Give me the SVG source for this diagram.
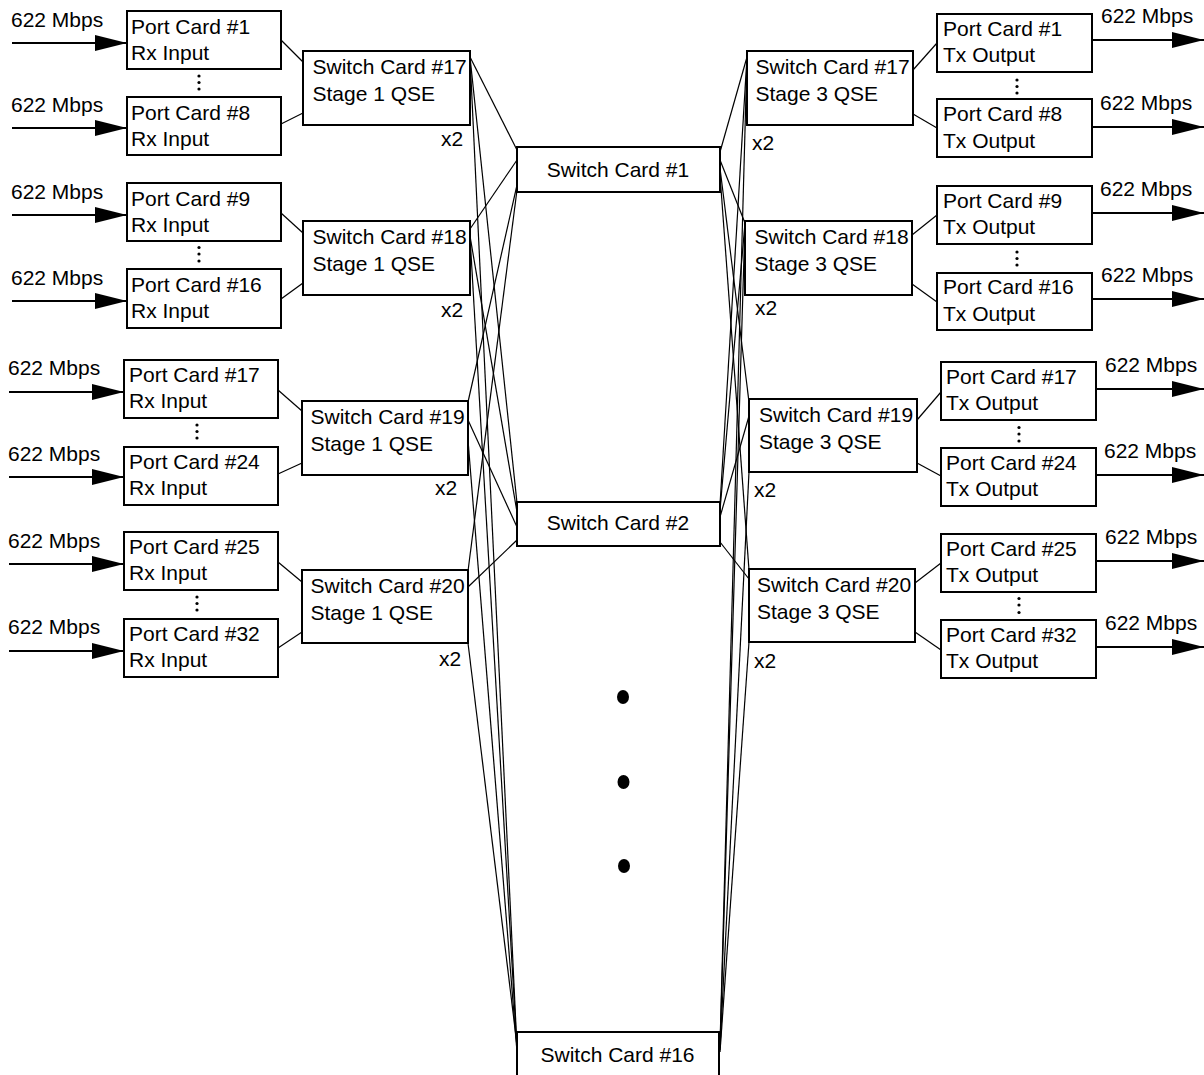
<svg xmlns="http://www.w3.org/2000/svg" width="1204" height="1075" viewBox="0 0 1204 1075">
<style>
text{font-family:"Liberation Sans",Arial,Helvetica,sans-serif;font-size:21px;fill:#000}
.box{fill:#fff;stroke:#000;stroke-width:2}
.ln{stroke:#000;stroke-width:1.2;fill:none}
.arr{stroke:#000;stroke-width:2;fill:none;marker-end:url(#ah)}
.mid{text-anchor:middle}
.dot{fill:#000}
</style>
<defs>
<marker id="ah" markerUnits="userSpaceOnUse" markerWidth="32" markerHeight="16" refX="32" refY="8" orient="auto">
<path d="M0,0 L32,8 L0,16 Z" fill="#000"/>
</marker>
</defs>
<rect width="1204" height="1075" fill="#fff"/>

<g id="connectors">
<!-- input arrows -->
<line class="arr" x1="12" y1="43" x2="127" y2="43"/>
<line class="arr" x1="12" y1="128" x2="127" y2="128"/>
<line class="arr" x1="12" y1="215" x2="127" y2="215"/>
<line class="arr" x1="12" y1="301" x2="127" y2="301"/>
<line class="arr" x1="9" y1="392" x2="124" y2="392"/>
<line class="arr" x1="9" y1="477" x2="124" y2="477"/>
<line class="arr" x1="9" y1="564" x2="124" y2="564"/>
<line class="arr" x1="9" y1="651" x2="124" y2="651"/>
<!-- output arrows -->
<line class="arr" x1="1092" y1="40" x2="1204" y2="40"/>
<line class="arr" x1="1092" y1="127" x2="1204" y2="127"/>
<line class="arr" x1="1092" y1="213" x2="1204" y2="213"/>
<line class="arr" x1="1092" y1="299" x2="1204" y2="299"/>
<line class="arr" x1="1096" y1="389" x2="1204" y2="389"/>
<line class="arr" x1="1096" y1="475" x2="1204" y2="475"/>
<line class="arr" x1="1096" y1="561" x2="1204" y2="561"/>
<line class="arr" x1="1096" y1="647" x2="1204" y2="647"/>
<!-- port cards to stage 1 -->
<line class="ln" x1="281" y1="40" x2="303" y2="62"/>
<line class="ln" x1="281" y1="124" x2="303" y2="113"/>
<line class="ln" x1="281" y1="213" x2="303" y2="233"/>
<line class="ln" x1="281" y1="299" x2="303" y2="283"/>
<line class="ln" x1="278" y1="390" x2="302" y2="411"/>
<line class="ln" x1="278" y1="474" x2="302" y2="463"/>
<line class="ln" x1="278" y1="562" x2="302" y2="582"/>
<line class="ln" x1="278" y1="648" x2="302" y2="632"/>
<!-- stage 3 to port cards -->
<line class="ln" x1="913" y1="70" x2="937" y2="43"/>
<line class="ln" x1="913" y1="114" x2="937" y2="128"/>
<line class="ln" x1="912" y1="235" x2="937" y2="215"/>
<line class="ln" x1="912" y1="284" x2="937" y2="302"/>
<line class="ln" x1="917" y1="420" x2="941" y2="392"/>
<line class="ln" x1="917" y1="463" x2="941" y2="476"/>
<line class="ln" x1="915" y1="583" x2="941" y2="563"/>
<line class="ln" x1="915" y1="632" x2="941" y2="650"/>
<!-- stage 1 to center -->
<line class="ln" x1="470" y1="57" x2="517" y2="150"/>
<line class="ln" x1="470" y1="57" x2="517" y2="503"/>
<line class="ln" x1="470" y1="57" x2="517" y2="1048"/>
<line class="ln" x1="470" y1="229" x2="517" y2="160"/>
<line class="ln" x1="470" y1="236" x2="517" y2="512"/>
<line class="ln" x1="470" y1="236" x2="517" y2="1050"/>
<line class="ln" x1="468" y1="402" x2="517" y2="185"/>
<line class="ln" x1="468" y1="420" x2="517" y2="527"/>
<line class="ln" x1="468" y1="440" x2="517" y2="1052"/>
<line class="ln" x1="468" y1="571" x2="517" y2="190"/>
<line class="ln" x1="468" y1="587" x2="517" y2="540"/>
<line class="ln" x1="468" y1="643" x2="517" y2="1045"/>
<!-- center to stage 3 -->
<line class="ln" x1="720" y1="152" x2="747" y2="57"/>
<line class="ln" x1="720" y1="505" x2="747" y2="57"/>
<line class="ln" x1="720" y1="1045" x2="747" y2="57"/>
<line class="ln" x1="720" y1="160" x2="745" y2="223"/>
<line class="ln" x1="720" y1="510" x2="745" y2="223"/>
<line class="ln" x1="720" y1="1048" x2="745" y2="223"/>
<line class="ln" x1="720" y1="168" x2="749" y2="402"/>
<line class="ln" x1="720" y1="517" x2="749" y2="416"/>
<line class="ln" x1="720" y1="1050" x2="749" y2="472"/>
<line class="ln" x1="720" y1="175" x2="749" y2="570"/>
<line class="ln" x1="720" y1="542" x2="749" y2="579"/>
<line class="ln" x1="720" y1="1052" x2="749" y2="642"/>
</g>

<g id="labels">
<text x="11" y="27">622 Mbps</text>
<text x="11" y="112">622 Mbps</text>
<text x="11" y="199">622 Mbps</text>
<text x="11" y="285">622 Mbps</text>
<text x="8" y="375">622 Mbps</text>
<text x="8" y="461">622 Mbps</text>
<text x="8" y="548">622 Mbps</text>
<text x="8" y="634">622 Mbps</text>
<text x="1101" y="23">622 Mbps</text>
<text x="1100" y="110">622 Mbps</text>
<text x="1100" y="196">622 Mbps</text>
<text x="1101" y="282">622 Mbps</text>
<text x="1105" y="372">622 Mbps</text>
<text x="1104" y="458">622 Mbps</text>
<text x="1105" y="544">622 Mbps</text>
<text x="1105" y="630">622 Mbps</text>
<text x="441" y="146">x2</text>
<text x="441" y="317">x2</text>
<text x="435" y="495">x2</text>
<text x="439" y="666">x2</text>
<text x="752" y="150">x2</text>
<text x="755" y="315">x2</text>
<text x="754" y="497">x2</text>
<text x="754" y="668">x2</text>
</g>

<g id="ellipses">
<circle class="dot" cx="199" cy="76" r="1.6"/><circle class="dot" cx="199" cy="82.5" r="1.6"/><circle class="dot" cx="199" cy="89" r="1.6"/>
<circle class="dot" cx="199" cy="247.5" r="1.6"/><circle class="dot" cx="199" cy="254" r="1.6"/><circle class="dot" cx="199" cy="261" r="1.6"/>
<circle class="dot" cx="197" cy="425" r="1.6"/><circle class="dot" cx="197" cy="431.5" r="1.6"/><circle class="dot" cx="197" cy="438" r="1.6"/>
<circle class="dot" cx="197" cy="597" r="1.6"/><circle class="dot" cx="197" cy="603.5" r="1.6"/><circle class="dot" cx="197" cy="610" r="1.6"/>
<circle class="dot" cx="1017" cy="80" r="1.6"/><circle class="dot" cx="1017" cy="86.5" r="1.6"/><circle class="dot" cx="1017" cy="93" r="1.6"/>
<circle class="dot" cx="1017" cy="252" r="1.6"/><circle class="dot" cx="1017" cy="258.5" r="1.6"/><circle class="dot" cx="1017" cy="265" r="1.6"/>
<circle class="dot" cx="1019" cy="427.5" r="1.6"/><circle class="dot" cx="1019" cy="434" r="1.6"/><circle class="dot" cx="1019" cy="441" r="1.6"/>
<circle class="dot" cx="1019" cy="598.5" r="1.6"/><circle class="dot" cx="1019" cy="605" r="1.6"/><circle class="dot" cx="1019" cy="612.5" r="1.6"/>
<ellipse class="dot" cx="623" cy="697" rx="6" ry="7"/>
<ellipse class="dot" cx="623.5" cy="782" rx="6" ry="7"/>
<ellipse class="dot" cx="624" cy="866" rx="6" ry="7"/>
</g>

<!-- input port cards -->
<g id="pc-rx-1"><rect class="box" x="127" y="11" width="154" height="58"/><text x="131" y="33.5">Port Card #1</text><text x="131" y="59.5">Rx Input</text></g>
<g id="pc-rx-8"><rect class="box" x="127" y="97" width="154" height="58"/><text x="131" y="119.5">Port Card #8</text><text x="131" y="145.5">Rx Input</text></g>
<g id="pc-rx-9"><rect class="box" x="127" y="183" width="154" height="58"/><text x="131" y="205.5">Port Card #9</text><text x="131" y="231.5">Rx Input</text></g>
<g id="pc-rx-16"><rect class="box" x="127" y="269" width="154" height="59"/><text x="131" y="291.5">Port Card #16</text><text x="131" y="317.5">Rx Input</text></g>
<g id="pc-rx-17"><rect class="box" x="124" y="360" width="154" height="58"/><text x="129" y="382">Port Card #17</text><text x="129" y="408">Rx Input</text></g>
<g id="pc-rx-24"><rect class="box" x="124" y="447" width="154" height="58"/><text x="129" y="469">Port Card #24</text><text x="129" y="495">Rx Input</text></g>
<g id="pc-rx-25"><rect class="box" x="124" y="532" width="154" height="58"/><text x="129" y="554">Port Card #25</text><text x="129" y="580">Rx Input</text></g>
<g id="pc-rx-32"><rect class="box" x="124" y="619" width="154" height="58"/><text x="129" y="641">Port Card #32</text><text x="129" y="667">Rx Input</text></g>

<!-- stage 1 -->
<g id="sc17-s1"><rect class="box" x="303" y="51" width="167" height="74"/><text x="312.5" y="74">Switch Card #17</text><text x="312.5" y="101">Stage 1 QSE</text></g>
<g id="sc18-s1"><rect class="box" x="303" y="221" width="167" height="74"/><text x="312.5" y="244">Switch Card #18</text><text x="312.5" y="271">Stage 1 QSE</text></g>
<g id="sc19-s1"><rect class="box" x="302" y="401" width="166" height="74"/><text x="310.5" y="423.5">Switch Card #19</text><text x="310.5" y="450.5">Stage 1 QSE</text></g>
<g id="sc20-s1"><rect class="box" x="302" y="570" width="166" height="73"/><text x="310.5" y="593">Switch Card #20</text><text x="310.5" y="620">Stage 1 QSE</text></g>

<!-- center -->
<g id="sc1"><rect class="box" x="517" y="147" width="203" height="45"/><text class="mid" x="618" y="177">Switch Card #1</text></g>
<g id="sc2"><rect class="box" x="517" y="502" width="203" height="44"/><text class="mid" x="618" y="530">Switch Card #2</text></g>
<g id="sc16"><rect class="box" x="517" y="1032" width="202" height="60"/><text class="mid" x="617.5" y="1062">Switch Card #16</text></g>

<!-- stage 3 -->
<g id="sc17-s3"><rect class="box" x="747" y="51" width="166" height="74"/><text x="755.5" y="74">Switch Card #17</text><text x="755.5" y="101">Stage 3 QSE</text></g>
<g id="sc18-s3"><rect class="box" x="745" y="221" width="167" height="74"/><text x="754.5" y="244">Switch Card #18</text><text x="754.5" y="271">Stage 3 QSE</text></g>
<g id="sc19-s3"><rect class="box" x="749" y="399" width="168" height="73"/><text x="759" y="422">Switch Card #19</text><text x="759" y="449">Stage 3 QSE</text></g>
<g id="sc20-s3"><rect class="box" x="749" y="569" width="166" height="73"/><text x="757" y="592">Switch Card #20</text><text x="757" y="619">Stage 3 QSE</text></g>

<!-- output port cards -->
<g id="pc-tx-1"><rect class="box" x="937" y="14" width="155" height="58"/><text x="943" y="35.5">Port Card #1</text><text x="943" y="62">Tx Output</text></g>
<g id="pc-tx-8"><rect class="box" x="937" y="99" width="155" height="58"/><text x="943" y="121">Port Card #8</text><text x="943" y="147.5">Tx Output</text></g>
<g id="pc-tx-9"><rect class="box" x="937" y="186" width="155" height="58"/><text x="943" y="207.5">Port Card #9</text><text x="943" y="234">Tx Output</text></g>
<g id="pc-tx-16"><rect class="box" x="937" y="273" width="155" height="57"/><text x="943" y="294">Port Card #16</text><text x="943" y="320.5">Tx Output</text></g>
<g id="pc-tx-17"><rect class="box" x="941" y="362" width="155" height="58"/><text x="946" y="383.5">Port Card #17</text><text x="946" y="410">Tx Output</text></g>
<g id="pc-tx-24"><rect class="box" x="941" y="448" width="155" height="58"/><text x="946" y="469.5">Port Card #24</text><text x="946" y="496">Tx Output</text></g>
<g id="pc-tx-25"><rect class="box" x="941" y="534" width="155" height="58"/><text x="946" y="555.5">Port Card #25</text><text x="946" y="582">Tx Output</text></g>
<g id="pc-tx-32"><rect class="box" x="941" y="620" width="155" height="58"/><text x="946" y="641.5">Port Card #32</text><text x="946" y="668">Tx Output</text></g>
</svg>
